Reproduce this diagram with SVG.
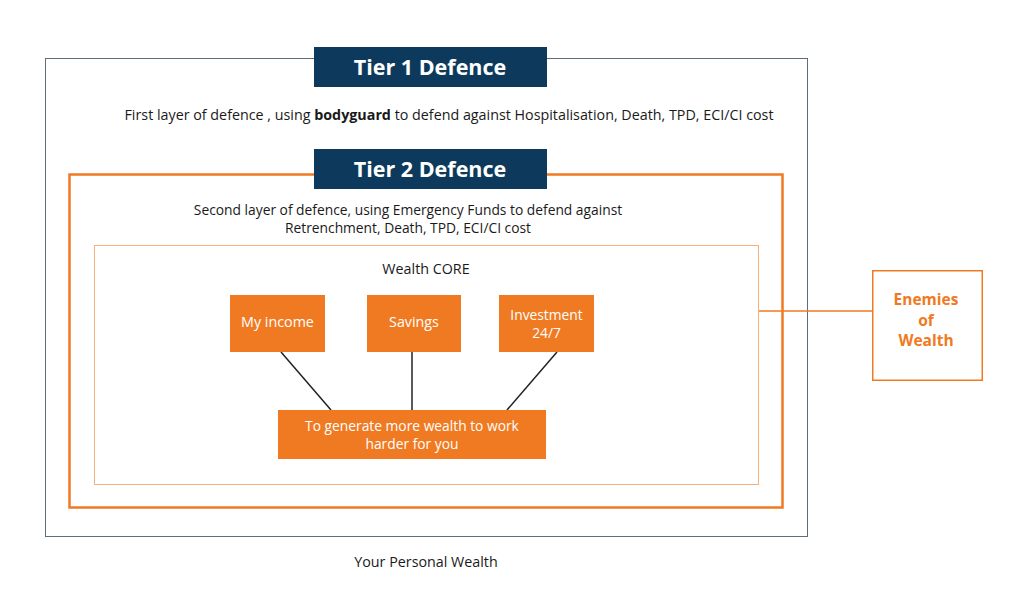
<svg xmlns="http://www.w3.org/2000/svg" width="1024" height="608" viewBox="0 0 1024 608">
<style>
text{font-family:"Open Sans","Liberation Sans",sans-serif;fill:#1a1a1a;font-size:14.3px}
.lbl{fill:#0d3a5c}
.lblt{fill:#fff;font-weight:bold;font-size:21.5px}
.node{fill:#f07a22}
.nt{fill:#fff;font-size:14.3px}
.nt2{fill:#fff;font-size:13.8px}
.t2{font-size:13.8px}
.en{fill:#f07a22;font-weight:bold;font-size:15.5px}
.conn{stroke:#222;stroke-width:1.5;fill:none}
</style>
<rect width="1024" height="608" fill="#fff"/>
<g id="tier1">
<rect x="45.5" y="58.5" width="762" height="478" fill="none" stroke="#5d6d7c" stroke-width="1"/>
<rect class="lbl" x="314" y="47" width="233" height="40"/>
<text class="lblt" x="430" y="74.5" text-anchor="middle">Tier 1 Defence</text>
<text x="449" y="120" text-anchor="middle">First layer of defence , using <tspan font-weight="bold">bodyguard</tspan> to defend against Hospitalisation, Death, TPD, ECI/CI cost</text>
</g>
<g id="tier2">
<rect x="69.5" y="174.5" width="713" height="333" fill="none" stroke="#f07a22" stroke-width="2.5"/>
<rect class="lbl" x="314" y="149" width="233" height="40"/>
<text class="lblt" x="430" y="176.5" text-anchor="middle">Tier 2 Defence</text>
<text class="t2" x="408" y="215" text-anchor="middle">Second layer of defence, using Emergency Funds to defend against</text>
<text class="t2" x="408" y="233" text-anchor="middle">Retrenchment, Death, TPD, ECI/CI cost</text>
</g>
<g id="core">
<rect x="94.5" y="245.5" width="664" height="239" fill="none" stroke="#f6b07c" stroke-width="1"/>
<text x="426" y="274" text-anchor="middle">Wealth CORE</text>
</g>
<g id="connectors">
<line class="conn" x1="281" y1="352" x2="331" y2="410"/>
<line class="conn" x1="412" y1="352" x2="412" y2="410"/>
<line class="conn" x1="557" y1="352" x2="507" y2="410"/>
<line x1="759" y1="311" x2="872" y2="311" stroke="#f07a22" stroke-width="1.5"/>
</g>
<g id="income">
<rect class="node" x="230" y="295" width="95" height="57"/>
<text class="nt" x="277.5" y="327" text-anchor="middle">My income</text>
</g>
<g id="savings">
<rect class="node" x="367" y="295" width="94" height="57"/>
<text class="nt" x="414" y="327" text-anchor="middle">Savings</text>
</g>
<g id="investment">
<rect class="node" x="499" y="295" width="95" height="57"/>
<text class="nt2" x="546.5" y="320" text-anchor="middle">Investment</text>
<text class="nt2" x="546.5" y="338" text-anchor="middle">24/7</text>
</g>
<g id="generate">
<rect class="node" x="278" y="410" width="268" height="49"/>
<text class="nt2" x="412" y="431" text-anchor="middle">To generate more wealth to work</text>
<text class="nt2" x="412" y="449" text-anchor="middle">harder for you</text>
</g>
<g id="enemies">
<rect x="872.75" y="270.75" width="109.5" height="109.5" fill="none" stroke="#f07a22" stroke-width="1.5"/>
<text class="en" x="926" y="305" text-anchor="middle">Enemies</text>
<text class="en" x="926" y="325.5" text-anchor="middle">of</text>
<text class="en" x="926" y="346" text-anchor="middle">Wealth</text>
</g>
<text x="426" y="567" text-anchor="middle">Your Personal Wealth</text>
</svg>
